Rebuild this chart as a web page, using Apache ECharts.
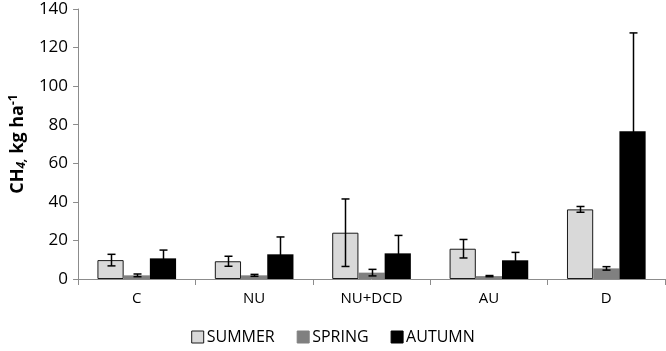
<!DOCTYPE html>
<html>
<head>
<meta charset="utf-8">
<script src="https://cdn.jsdelivr.net/npm/echarts@6/dist/echarts.min.js"></script>
<style>
  html, body { margin: 0; padding: 0; background: #fff; }
  #chart { width: 666px; height: 351px; }
</style>
</head>
<body>
<div id="chart"></div>
<script>
// treatments on the x axis
const categories = ['C', 'NU', 'NU+DCD', 'AU', 'D'];
const seasons = ['SUMMER', 'SPRING', 'AUTUMN'];

// CH4 means (kg ha-1)
const summer = [9.8, 9.2, 24.0, 15.7, 36.1];
const spring = [1.9, 1.9, 3.3, 1.5, 5.5];
const autumn = [10.7, 12.8, 13.3, 9.7, 76.6];

// error bar half widths
const summerErr = [3.0, 2.6, 17.5, 4.8, 1.5];
const springErr = [0.7, 0.5, 1.7, 0.3, 0.9];
const autumnErr = [4.3, 9.0, 9.3, 4.1, 51.0];

const yTicks = [0, 20, 40, 60, 80, 100, 120, 140];

const colors = ['#d9d9d9', '#808080', '#000000'];
const borders = ['#1a1a1a', '#808080', '#000000'];
const catGap = 0.33;

const chart = echarts.init(document.getElementById('chart'));

// error bars drawn on top of each bar (index = season position in group)
const errorSeries = (values, errs, idx) => ({
  type: 'custom',
  name: seasons[idx] + ' err',
  silent: true,
  z: 10,
  data: values.map((v, i) => [i, v - errs[i], v + errs[i]]),
  renderItem: (params, api) => {
    const catW = api.size([1, 0])[0];
    const barW = catW * (1 - catGap) / 3;
    const lo = api.coord([api.value(0), api.value(1)]);
    const hi = api.coord([api.value(0), api.value(2)]);
    const x = Math.round(lo[0] + (idx - 1) * barW) + 0.5;
    const cap = 4;
    const style = { stroke: '#000', lineWidth: 1.5 };
    return {
      type: 'group',
      children: [
        { type: 'line', shape: { x1: x, y1: lo[1], x2: x, y2: hi[1] }, style },
        { type: 'line', shape: { x1: x - cap, y1: hi[1], x2: x + cap, y2: hi[1] }, style },
        { type: 'line', shape: { x1: x - cap, y1: lo[1], x2: x + cap, y2: lo[1] }, style }
      ]
    };
  }
});

const barSeries = (values, idx) => ({
  type: 'bar',
  name: seasons[idx],
  data: values,
  barGap: 0,
  barCategoryGap: (catGap * 100) + '%',
  itemStyle: { color: colors[idx], borderColor: borders[idx], borderWidth: idx === 0 ? 1 : 0 }
});

const option = {
  animation: false,
  textStyle: { fontFamily: 'Open Sans' },
  grid: { left: 75, right: 1, top: 9, bottom: 72 },
  legend: {
    bottom: 1,
    left: 'center',
    itemWidth: 12,
    itemHeight: 12,
    itemGap: 22,
    icon: 'rect',
    textStyle: { fontSize: 16, color: '#000', padding: [0, 0, 0, -2] },
    data: seasons.map((s, i) => ({
      name: s,
      itemStyle: { color: colors[i], borderColor: i === 0 ? '#1a1a1a' : colors[i], borderWidth: 1 }
    }))
  },
  xAxis: {
    type: 'category',
    data: categories,
    axisLine: { lineStyle: { color: '#8c8c8c', width: 1 } },
    axisTick: { show: true, length: 6, lineStyle: { color: '#8c8c8c' } },
    axisLabel: { fontSize: 15, color: '#000', margin: 12 }
  },
  yAxis: {
    type: 'value',
    min: 0,
    max: 140,
    interval: 20,
    name: '{b|CH}{s|4,}{b| kg ha}{p|-1}',
    nameLocation: 'middle',
    nameGap: 46,
    nameRotate: 90,
    nameTextStyle: {
      rich: {
        b: { fontSize: 18, fontWeight: 'bold', color: '#000' },
        s: { fontSize: 12, fontWeight: 'bold', fontStyle: 'italic', color: '#000', verticalAlign: 'bottom', padding: [8, 0, 0, 0] },
        p: { fontSize: 12, fontWeight: 'bold', color: '#000', verticalAlign: 'top', padding: [0, 0, 8, 0] }
      }
    },
    splitLine: { show: false },
    axisLine: { show: true, lineStyle: { color: '#8c8c8c', width: 1 } },
    axisTick: { show: true, length: 5, lineStyle: { color: '#8c8c8c' } },
    axisLabel: {
      fontSize: 17, color: '#000', margin: 10,
      formatter: v => (yTicks.includes(v) ? String(v) : '')
    }
  },
  series: [
    barSeries(summer, 0),
    barSeries(spring, 1),
    barSeries(autumn, 2),
    errorSeries(summer, summerErr, 0),
    errorSeries(spring, springErr, 1),
    errorSeries(autumn, autumnErr, 2)
  ]
};

chart.setOption(option);
</script>
</body>
</html>
